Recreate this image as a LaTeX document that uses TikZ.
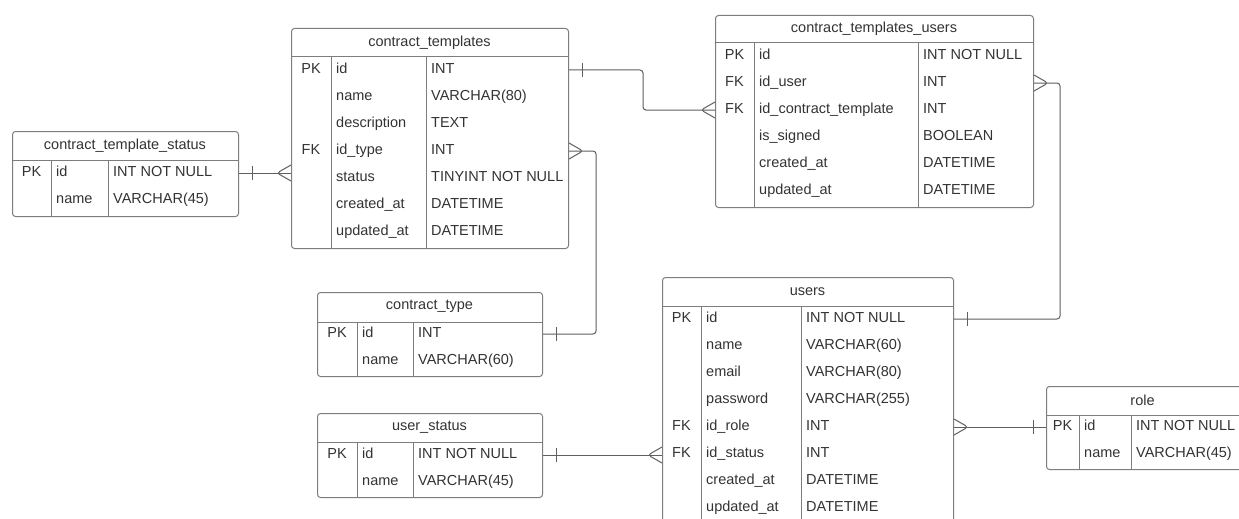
\documentclass[tikz,border=0pt]{standalone}
\usepackage{fontspec}
\setmainfont{Liberation Sans}
\usepackage{tikz}
\usetikzlibrary{calc}
\usepackage{xcolor}
\definecolor{inkgray}{RGB}{51,51,51}
\definecolor{boxgray}{RGB}{125,125,125}
\definecolor{linkgray}{RGB}{95,95,95}

\begin{document}
\begin{tikzpicture}[
    x=1pt, y=-1pt,
    font=\fontsize{14.5}{17}\selectfont,
    tbl/.style={rectangle, rounded corners=3pt, draw=boxgray, line width=1pt, anchor=north west, inner sep=0pt},
    sepline/.style={draw=boxgray, line width=1pt},
    title/.style={text=inkgray, inner sep=0pt},
    cell/.style={text=inkgray, inner sep=0pt, text height=10.5pt, text depth=3pt},
    link/.style={draw=linkgray, line width=1pt, rounded corners=3pt},
    crowfoot/.pic={\draw[link] (0,-8) -- (-14,0) -- (0,8);},
    onebar/.pic={\draw[link] (-13,-7) -- (-13,7);}
]

\path[use as bounding box, fill=white] (0,0) rectangle (1239,519);
\clip (0,0) rectangle (1239,519);

% contract_template_status
\node[tbl, minimum width=226pt, minimum height=85pt] (cts) at (12,131) {};
\node[title] (cts-t) at (125,145.5) {contract\_template\_status};
\draw[sepline] (12,160) -- (238,160) (51,160) -- (51,216) (108,160) -- (108,216);
\foreach \k/\f/\t [count=\i] in {PK/id/INT NOT NULL, /name/VARCHAR(45)} {
    \node[cell] (cts-\i) at (31.5, 131+15+27*\i) {\k};
    \node[cell, anchor=west] (cts-\i-f) at (56, 131+15+27*\i) {\f};
    \node[cell, anchor=west] (cts-\i-t) at (113, 131+15+27*\i) {\t};
}

% contract_templates
\node[tbl, minimum width=277pt, minimum height=220pt] (ct) at (291,28) {};
\node[title] (ct-t) at (429.5,42.5) {contract\_templates};
\draw[sepline] (291,57) -- (568,57) (331,57) -- (331,248) (426,57) -- (426,248);
\foreach \k/\f/\t [count=\i] in {PK/id/INT, /name/VARCHAR(80), /description/TEXT, FK/id\_type/INT,
    /status/TINYINT NOT NULL, /created\_at/DATETIME, /updated\_at/DATETIME} {
    \node[cell] (ct-\i) at (311, 28+15+27*\i) {\k};
    \node[cell, anchor=west] (ct-\i-f) at (336, 28+15+27*\i) {\f};
    \node[cell, anchor=west] (ct-\i-t) at (431, 28+15+27*\i) {\t};
}

% contract_templates_users
\node[tbl, minimum width=318pt, minimum height=192pt] (ctu) at (715,15) {};
\node[title] (ctu-t) at (874,29) {contract\_templates\_users};
\draw[sepline] (715,43) -- (1033,43) (754,43) -- (754,207) (918,43) -- (918,207);
\foreach \k/\f/\t [count=\i] in {PK/id/INT NOT NULL, FK/id\_user/INT, FK/id\_contract\_template/INT,
    /is\_signed/BOOLEAN, /created\_at/DATETIME, /updated\_at/DATETIME} {
    \node[cell] (ctu-\i) at (734.5, 15+14+27*\i) {\k};
    \node[cell, anchor=west] (ctu-\i-f) at (759, 15+14+27*\i) {\f};
    \node[cell, anchor=west] (ctu-\i-t) at (923, 15+14+27*\i) {\t};
}

% contract_type
\node[tbl, minimum width=225pt, minimum height=84pt] (ctype) at (317,292) {};
\node[title] (ctype-t) at (429.5,306.5) {contract\_type};
\draw[sepline] (317,322) -- (542,322) (357,322) -- (357,376) (413,322) -- (413,376);
\foreach \k/\f/\t [count=\i] in {PK/id/INT, /name/VARCHAR(60)} {
    \node[cell] (ctype-\i) at (337, 292+15+27*\i) {\k};
    \node[cell, anchor=west] (ctype-\i-f) at (362, 292+15+27*\i) {\f};
    \node[cell, anchor=west] (ctype-\i-t) at (418, 292+15+27*\i) {\t};
}

% user_status
\node[tbl, minimum width=225pt, minimum height=84pt] (us) at (317,413) {};
\node[title] (us-t) at (429.5,427.5) {user\_status};
\draw[sepline] (317,442) -- (542,442) (357,442) -- (357,497) (413,442) -- (413,497);
\foreach \k/\f/\t [count=\i] in {PK/id/INT NOT NULL, /name/VARCHAR(45)} {
    \node[cell] (us-\i) at (337, 413+15+27*\i) {\k};
    \node[cell, anchor=west] (us-\i-f) at (362, 413+15+27*\i) {\f};
    \node[cell, anchor=west] (us-\i-t) at (418, 413+15+27*\i) {\t};
}

% users
\node[tbl, minimum width=291pt, minimum height=247pt] (users) at (662,277) {};
\node[title] (users-t) at (807.5,291.5) {users};
\draw[sepline] (662,306) -- (953,306) (701,306) -- (701,524) (801,306) -- (801,524);
\foreach \k/\f/\t [count=\i] in {PK/id/INT NOT NULL, /name/VARCHAR(60), /email/VARCHAR(80),
    /password/VARCHAR(255), FK/id\_role/INT, FK/id\_status/INT, /created\_at/DATETIME, /updated\_at/DATETIME} {
    \node[cell] (users-\i) at (681.5, 277+15+27*\i) {\k};
    \node[cell, anchor=west] (users-\i-f) at (706, 277+15+27*\i) {\f};
    \node[cell, anchor=west] (users-\i-t) at (806, 277+15+27*\i) {\t};
}

% role
\node[tbl, minimum width=200pt, minimum height=83pt] (role) at (1046,386) {};
\node[title] (role-t) at (1142.5,400.5) {role};
\draw[sepline] (1046,415) -- (1246,415) (1079,415) -- (1079,469) (1131,415) -- (1131,469);
\foreach \k/\f/\t [count=\i] in {PK/id/INT NOT NULL, /name/VARCHAR(45)} {
    \node[cell] (role-\i) at (1062.5, 386+14+27*\i) {\k};
    \node[cell, anchor=west] (role-\i-f) at (1084, 386+14+27*\i) {\f};
    \node[cell, anchor=west] (role-\i-t) at (1136, 386+14+27*\i) {\t};
}

% Relations
\draw[link] (cts.east |- cts-1) -- (ct.west |- cts-1);
\pic[rotate=180] at (cts.east |- cts-1) {onebar};
\pic at (ct.west |- cts-1) {crowfoot};

\draw[link] (ct.east |- ct-1) -- ++(74,0) |- (ctu.west |- ctu-3);
\pic[rotate=180] at (ct.east |- ct-1) {onebar};
\pic at (ctu.west |- ctu-3) {crowfoot};

\draw[link] (ct.east |- ct-4) -- ++(27,0) |- (ctype.east |- ctype-1);
\pic[rotate=180] at (ct.east |- ct-4) {crowfoot};
\pic[rotate=180] at (ctype.east |- ctype-1) {onebar};

\draw[link] (ctu.east |- ctu-2) -- ++(26,0) |- (users.east |- users-1);
\pic[rotate=180] at (ctu.east |- ctu-2) {crowfoot};
\pic[rotate=180] at (users.east |- users-1) {onebar};

\draw[link] (users.east |- role-1) -- (role.west |- role-1);
\pic[rotate=180] at (users.east |- role-1) {crowfoot};
\pic at (role.west |- role-1) {onebar};

\draw[link] (us.east |- us-1) -- (users.west |- us-1);
\pic[rotate=180] at (us.east |- us-1) {onebar};
\pic at (users.west |- us-1) {crowfoot};

\end{tikzpicture}
\end{document}
